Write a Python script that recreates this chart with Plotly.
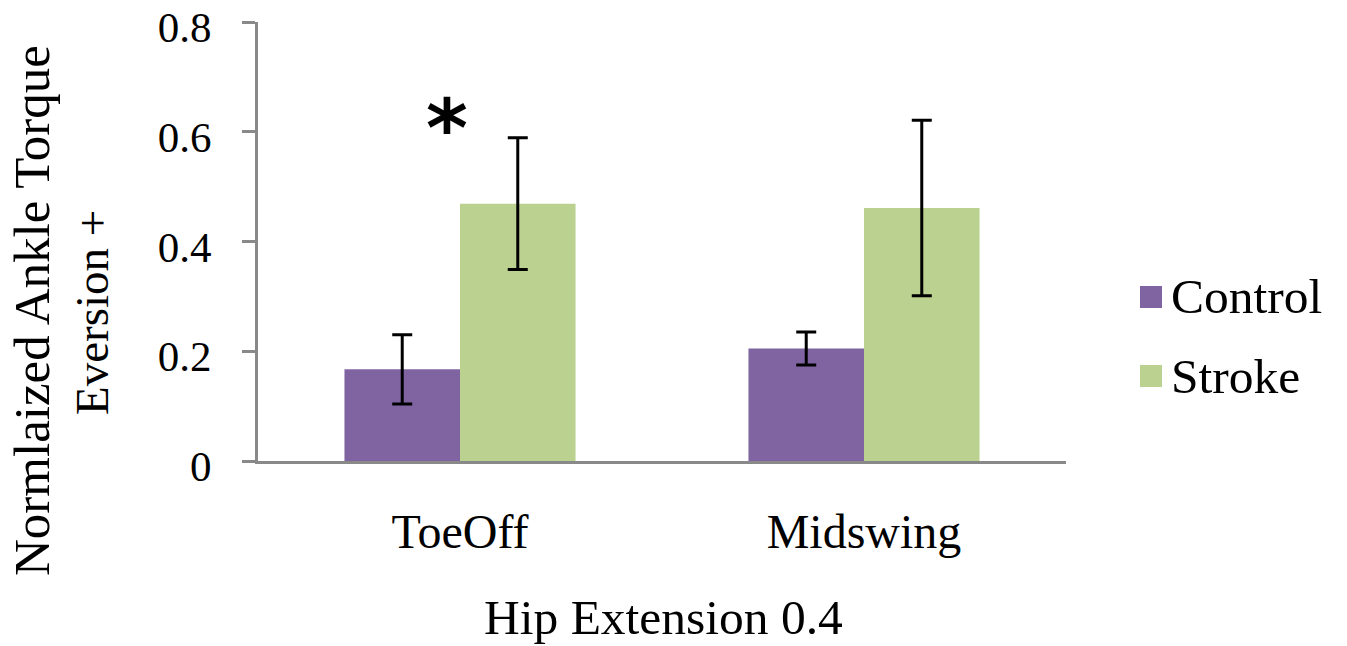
import plotly.graph_objects as go

categories = ["ToeOff", "Midswing"]
control_vals = [0.167, 0.205]
control_err = [0.063, 0.030]
stroke_vals = [0.469, 0.461]
stroke_err = [0.120, 0.160]
series_names = ["Control", "Stroke"]
series_colors = ["#8064A2", "#BBD18F"]
y_ticks = [0, 0.2, 0.4, 0.6, 0.8]
y_tick_labels = ["0", "0.2", "0.4", "0.6", "0.8"]
y_title_lines = ["Normlaized Ankle Torque", "Eversion +"]
x_title = "Hip Extension 0.4"

AXIS = "#898989"
FONT = "Georgia, Liberation Serif, serif"

W, H = 1347, 646
L, R, T, B = 258, 281, 22, 185
pw = W - L - R
ph = H - T - B


def px_x(p):
    return (p - L) / pw


def px_y(p):
    return (H - B - p) / ph


fig = go.Figure()
for name, vals, errs, col in [
    (series_names[0], control_vals, control_err, series_colors[0]),
    (series_names[1], stroke_vals, stroke_err, series_colors[1]),
]:
    fig.add_trace(go.Bar(
        x=categories, y=vals, name=name, marker_color=col, marker_line_width=0,
        error_y=dict(type="data", array=errs, visible=True, color="black",
                     thickness=3, width=10),
        showlegend=False,
    ))

annotations = [
    dict(text=y_title_lines[0], textangle=-90, xref="paper", yref="paper",
         x=px_x(32), y=px_y(310), xanchor="center", yanchor="middle",
         showarrow=False, font=dict(size=51, family=FONT)),
    dict(text=y_title_lines[1], textangle=-90, xref="paper", yref="paper",
         x=px_x(92), y=px_y(313), xanchor="center", yanchor="middle",
         showarrow=False, font=dict(size=47, family=FONT)),
    dict(text=x_title, xref="paper", yref="paper",
         x=px_x(663), y=px_y(617), xanchor="center", yanchor="middle",
         showarrow=False, font=dict(size=49.5, family=FONT)),
    dict(text="<b>*</b>", xref="x", yref="y", x="ToeOff", xshift=-13,
         y=0.606, xanchor="center", yanchor="middle", showarrow=False,
         font=dict(size=80, family="DejaVu Sans")),
]
shapes = []
legend_centers = [297, 376]
for name, col, cy in zip(series_names, series_colors, legend_centers):
    shapes.append(dict(type="rect", xref="paper", yref="paper",
                       x0=px_x(1140), x1=px_x(1162), y0=px_y(cy + 11), y1=px_y(cy - 11),
                       fillcolor=col, line=dict(width=0)))
    annotations.append(dict(text=name, xref="paper", yref="paper",
                            x=px_x(1169), y=px_y(cy), xanchor="left", yanchor="middle",
                            showarrow=False, font=dict(size=49.5, family=FONT)))

fig.update_layout(
    width=W, height=H,
    margin=dict(l=L, r=R, t=T, b=B, pad=0, autoexpand=False),
    paper_bgcolor="white", plot_bgcolor="white",
    barmode="group", bargap=0.428, bargroupgap=0,
    font=dict(family=FONT, color="black", size=46),
    showlegend=False,
    xaxis=dict(showline=True, linecolor=AXIS, linewidth=3, ticks="",
               showgrid=False, zeroline=False, tickfont=dict(size=48),
               ticklabelstandoff=26, automargin=False),
    yaxis=dict(range=[0, 0.8], tickvals=y_ticks, ticktext=y_tick_labels,
               showline=True, linecolor=AXIS, linewidth=3, ticks="outside",
               ticklen=13, tickwidth=3, tickcolor=AXIS, showgrid=False,
               zeroline=False, tickfont=dict(size=43), ticklabelstandoff=22,
               ticklabelshift=5, ticklabeloverflow="allow", automargin=False),
    annotations=annotations,
    shapes=shapes,
)

fig.write_html("out.html", config={"displayModeBar": False},
               post_script="document.body.style.margin='0';document.body.style.overflow='hidden';")
